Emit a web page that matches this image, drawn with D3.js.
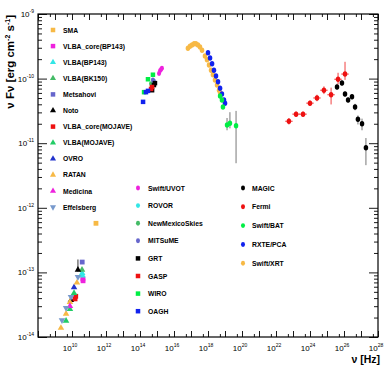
<!DOCTYPE html>
<html>
<head>
<meta charset="utf-8">
<script src="https://cdn.jsdelivr.net/npm/d3@7"></script>
<style>
body { margin: 0; background: #fff; }
svg { display: block; }
text { font-family: "Liberation Sans", Arial, sans-serif; }
</style>
</head>
<body>
<div id="chart"></div>
<script>
// values, as [log10 nu, log10 nuFnu, errDown, errUp]
const smaData = [[11.41, -12.24]];
const vlbaCoreBP143 = [[10.65, -13.13], [10.64, -13.10]];
const vlbaBP143 = [[10.60, -13.01], [10.62, -13.05]];
const vlbaBK150 = [[10.59, -12.96]];
const metsahovi = [[10.60, -12.84]];
const noto = [[10.35, -12.96, 0.03, 0.16], [9.94, -13.43]];
const vlbaCoreMOJAVE = [[10.18, -13.41], [10.22, -13.37]];
const vlbaMOJAVE = [[9.65, -13.75], [9.88, -13.57], [10.12, -13.32]];
const ovro = [[10.12, -13.23]];
const ratan = [[9.35, -13.86], [9.65, -13.64], [9.88, -13.46], [10.29, -13.16]];
const medicina = [[9.88, -13.52]];
const effelsberg = [[9.41, -13.74], [9.65, -13.55], [9.94, -13.38], [10.35, -13.07]];

const swiftUVOT = [[15.12, -9.92], [15.18, -9.88], [15.24, -9.86], [15.29, -9.84]];
const rovor = [[14.71, -10.09]];
const newMexicoSkies = [[14.65, -10.08]];
const mitsume = [[14.76, -10.02], [14.82, -10.04]];
const grt = [[14.71, -10.18], [14.82, -10.10], [14.88, -10.07]];
const gasp = [[14.65, -10.16], [14.71, -10.13]];
const wiro = [[14.24, -10.21], [14.47, -10.01], [14.76, -9.94]];
const oagh = [[14.18, -10.36], [14.35, -10.21], [14.47, -10.19]];

const magic = [[25.59, -10.13, 0.04, 0.05], [25.88, -10.07, 0.04, 0.04], [26.06, -10.24, 0.04, 0.04],
  [26.24, -10.33, 0.04, 0.04], [26.47, -10.28, 0.04, 0.04], [26.65, -10.44, 0.05, 0.05],
  [26.82, -10.63, 0.08, 0.06], [27.06, -10.70, 0.10, 0.08], [27.29, -11.07, 0.27, 0.15]];
const fermi = [[22.76, -10.66, 0.05, 0.05], [23.18, -10.55, 0.04, 0.04], [23.59, -10.55, 0.04, 0.04],
  [24.00, -10.38, 0.04, 0.04], [24.41, -10.30, 0.05, 0.05], [24.82, -10.18, 0.06, 0.06],
  [25.24, -10.25, 0.15, 0.11], [25.65, -10.01, 0.08, 0.10], [26.06, -9.93, 0.09, 0.19]];
const swiftBAT = [[18.71, -10.27], [18.82, -10.33], [18.88, -10.44],
  [19.12, -10.72, 0.08, 0.11], [19.29, -10.69, 0.08, 0.17], [19.65, -10.73, 0.58, 0.23]];
const rxtePCA = [[18.00, -9.60], [18.12, -9.68], [18.24, -9.77], [18.35, -9.87], [18.47, -9.96],
  [18.59, -10.05], [18.71, -10.15], [18.82, -10.24], [18.94, -10.33], [19.00, -10.38]];
const swiftXRT = [[16.82, -9.53], [16.94, -9.50], [17.06, -9.48], [17.18, -9.46], [17.29, -9.46],
  [17.41, -9.48], [17.53, -9.51], [17.65, -9.56], [17.82, -9.65], [17.94, -9.71], [18.06, -9.79],
  [18.18, -9.87], [18.29, -9.94], [18.41, -10.02], [18.53, -10.10], [18.65, -10.18], [18.71, -10.22]];

const leftNames = ["SMA", "VLBA_core(BP143)", "VLBA(BP143)", "VLBA(BK150)", "Metsahovi", "Noto",
  "VLBA_core(MOJAVE)", "VLBA(MOJAVE)", "OVRO", "RATAN", "Medicina", "Effelsberg"];
const leftData = [smaData, vlbaCoreBP143, vlbaBP143, vlbaBK150, metsahovi, noto,
  vlbaCoreMOJAVE, vlbaMOJAVE, ovro, ratan, medicina, effelsberg];
const leftColors = ["#f7b945", "#ee22dd", "#33e6e6", "#44bb66", "#6666cc", "#000000",
  "#ee1111", "#22cc66", "#2233cc", "#f7b945", "#ee22dd", "#7799cc"];
const leftShapes = ["square", "square", "up", "up", "square", "up",
  "square", "up", "up", "up", "up", "down"];

const midNames = ["Swift/UVOT", "ROVOR", "NewMexicoSkies", "MITSuME", "GRT", "GASP", "WIRO", "OAGH"];
const midData = [swiftUVOT, rovor, newMexicoSkies, mitsume, grt, gasp, wiro, oagh];
const midColors = ["#ee22dd", "#33e6e6", "#44bb66", "#6666cc", "#000000", "#ee1111", "#00ee44", "#1122ee"];
const midShapes = ["circle", "circle", "circle", "circle", "square", "square", "square", "square"];

const rightNames = ["MAGIC", "Fermi", "Swift/BAT", "RXTE/PCA", "Swift/XRT"];
const rightData = [magic, fermi, swiftBAT, rxtePCA, swiftXRT];
const rightColors = ["#000000", "#ee1111", "#00ee44", "#1122ee", "#f7b945"];

const xTickExp = [10, 12, 14, 16, 18, 20, 22, 24, 26, 28];
const yTickExp = [-9, -10, -11, -12, -13, -14];

const width = 389, height = 367;
const x = d3.scaleLog().domain([1e8, 1e28]).range([38, 378]);
const y = d3.scaleLog().domain([1e-14, 1e-9]).range([337, 14]);
const px = d => x(Math.pow(10, d[0]));
const py = d => y(Math.pow(10, d[1]));

const svg = d3.select("#chart").append("svg").attr("width", width).attr("height", height);

// ticks
const xMajor = d3.range(8, 29).map(e => Math.pow(10, e));
const xMinor = d3.range(8, 28).map(e => 5 * Math.pow(10, e));
const yMajor = d3.range(-14, -8).map(e => Math.pow(10, e));
const yMinor = [];
d3.range(-14, -9).forEach(e => { for (let k = 2; k < 10; k++) yMinor.push(k * Math.pow(10, e)); });

function tickGroup(axis, tr) {
  svg.append("g").attr("transform", tr).call(axis)
    .call(g => g.select(".domain").remove())
    .call(g => g.selectAll("line").attr("stroke", "#000").attr("stroke-width", 0.9));
}
tickGroup(d3.axisBottom(x).tickValues(xMajor).tickSize(-6).tickFormat(""), "translate(0,337)");
tickGroup(d3.axisBottom(x).tickValues(xMinor).tickSize(-3).tickFormat(""), "translate(0,337)");
tickGroup(d3.axisTop(x).tickValues(xMajor).tickSize(-6).tickFormat(""), "translate(0,14)");
tickGroup(d3.axisTop(x).tickValues(xMinor).tickSize(-3).tickFormat(""), "translate(0,14)");
tickGroup(d3.axisLeft(y).tickValues(yMajor).tickSize(-9).tickFormat(""), "translate(38,0)");
tickGroup(d3.axisLeft(y).tickValues(yMinor).tickSize(-4).tickFormat(""), "translate(38,0)");
tickGroup(d3.axisRight(y).tickValues(yMajor).tickSize(-9).tickFormat(""), "translate(378,0)");
tickGroup(d3.axisRight(y).tickValues(yMinor).tickSize(-4).tickFormat(""), "translate(378,0)");

svg.append("rect").attr("x", 38).attr("y", 14).attr("width", 340).attr("height", 323)
  .attr("fill", "none").attr("stroke", "#000").attr("stroke-width", 1.2);

// tick labels
xTickExp.forEach(e => {
  const t = svg.append("text").attr("x", x(Math.pow(10, e)) - 2).attr("y", 351)
    .attr("text-anchor", "middle").attr("font-size", 8);
  t.append("tspan").text("10");
  t.append("tspan").attr("dy", -4).attr("font-size", 5).text(e);
});
yTickExp.forEach(e => {
  const t = svg.append("text").attr("x", 34).attr("y", y(Math.pow(10, e)) + 3)
    .attr("text-anchor", "end").attr("font-size", 8);
  t.append("tspan").text("10");
  t.append("tspan").attr("dy", -4).attr("font-size", 5).text(e);
});

// axis titles
const yt = svg.append("text").attr("transform", "translate(14,15) rotate(-90)")
  .attr("text-anchor", "end").attr("font-size", 11.5).attr("font-weight", "bold");
yt.append("tspan").text("\u03bd F\u03bd [erg cm");
yt.append("tspan").attr("dy", -4).attr("font-size", 7).text("-2");
yt.append("tspan").attr("dy", 4).text(" s");
yt.append("tspan").attr("dy", -4).attr("font-size", 7).text("-1");
yt.append("tspan").attr("dy", 4).text("]");

svg.append("text").attr("x", 380).attr("y", 363).attr("text-anchor", "end")
  .attr("font-size", 10.5).attr("font-weight", "bold").text("\u03bd [Hz]");

// markers
function marker(sel, shape, color, s) {
  if (shape === "circle") {
    sel.append("ellipse").attr("rx", s * 0.45).attr("ry", s * 0.55).attr("fill", color);
  } else if (shape === "square") {
    sel.append("rect").attr("x", -s / 2).attr("y", -s / 2).attr("width", s).attr("height", s).attr("fill", color);
  } else {
    const sym = d3.symbol().type(d3.symbolTriangle).size(s * s * 0.8);
    sel.append("path").attr("d", sym())
      .attr("transform", shape === "down" ? "rotate(180)" : null).attr("fill", color);
  }
}

function errorBars(data, color, hx) {
  const g = svg.append("g").attr("stroke", color).attr("stroke-width", 0.8);
  data.filter(d => d.length > 2).forEach(d => {
    g.append("line").attr("x1", px(d)).attr("x2", px(d))
      .attr("y1", y(Math.pow(10, d[1] - d[2]))).attr("y2", y(Math.pow(10, d[1] + d[3])));
  });
  if (hx) {
    data.forEach(d => {
      g.append("line").attr("y1", py(d)).attr("y2", py(d))
        .attr("x1", x(Math.pow(10, d[0] - hx))).attr("x2", x(Math.pow(10, d[0] + hx)));
    });
  }
}

function drawSeries(data, shape, color, s) {
  svg.append("g").selectAll("g").data(data).enter().append("g")
    .attr("transform", d => `translate(${px(d)},${py(d)})`)
    .each(function () { marker(d3.select(this), shape, color, s); });
}

errorBars(noto, "#000");
errorBars(swiftBAT, "#555");
errorBars(magic, "#555");
errorBars(fermi, "#ee1111", 0.22);

leftData.forEach((d, i) => drawSeries(d, leftShapes[i], leftColors[i], 4.8));
midData.forEach((d, i) => drawSeries(d, midShapes[i], midColors[i], 4.5));
[4, 3, 2, 1, 0].forEach(i => drawSeries(rightData[i], "circle", rightColors[i], 5));

// legends
function legend(names, colors, shapes, mx, tx, y0, dy) {
  names.forEach((n, i) => {
    const g = svg.append("g").attr("transform", `translate(${mx},${y0 + i * dy})`);
    marker(g, shapes[i], colors[i], 4.5);
    svg.append("text").attr("x", tx).attr("y", y0 + i * dy + 2.5)
      .attr("font-size", 6.8).attr("font-weight", "bold")
      .text(n);
  });
}
legend(leftNames, leftColors, leftShapes, 53, 63, 30, 16.1);
legend(midNames, midColors, midShapes, 138, 148, 188, 17.6);
legend(rightNames, rightColors, rightNames.map(() => "circle"), 243, 252, 188, 18.8);
</script>
</body>
</html>
